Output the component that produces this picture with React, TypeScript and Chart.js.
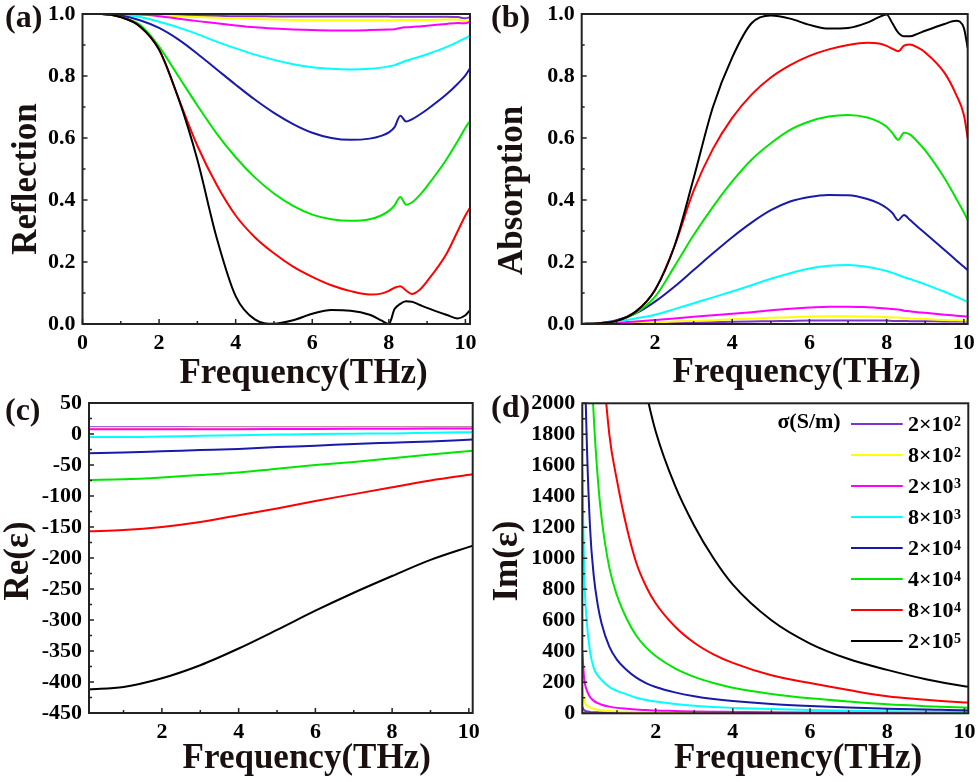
import React, { useEffect, useRef } from 'react';
import Chart from 'chart.js/auto';

const SERIF = '"Liberation Serif", "Times New Roman", serif';
const INK = '#1a1010';

// conductivity series, in legend order (2x10^2 ... 2x10^5)
const sigmaBase = ['2×10', '8×10', '2×10', '8×10', '2×10', '4×10', '8×10', '2×10'];
const sigmaExp = ['2', '2', '3', '3', '4', '4', '4', '5'];
const sigmaColors = ['#8033cc', '#ffff00', '#ff00ff', '#00ffff', '#1a1aaa', '#00e600', '#ff0000', '#000000'];

// (a) Reflection
const freqA = [0, 0.5, 1, 1.5, 2, 2.5, 3, 3.5, 4, 4.5, 5, 5.5, 6, 6.5, 7, 7.5, 7.8, 8, 8.15, 8.3, 8.45, 8.6, 8.8, 9, 9.5, 9.8, 10, 10.12];
const refl2e2 = [1, 1, 0.999, 0.998, 0.997, 0.996, 0.995, 0.994, 0.993, 0.993, 0.992, 0.992, 0.992, 0.992, 0.992, 0.992, 0.992, 0.992, 0.991, 0.991, 0.991, 0.991, 0.991, 0.991, 0.991, 0.99, 0.986, 0.99];
const refl8e2 = [1, 1, 0.999, 0.997, 0.995, 0.993, 0.99, 0.988, 0.986, 0.984, 0.982, 0.981, 0.98, 0.98, 0.98, 0.98, 0.98, 0.98, 0.98, 0.981, 0.981, 0.981, 0.981, 0.981, 0.982, 0.982, 0.977, 0.981];
const refl2e3 = [1, 1, 0.999, 0.998, 0.993, 0.985, 0.977, 0.97, 0.963, 0.957, 0.953, 0.95, 0.948, 0.947, 0.947, 0.948, 0.949, 0.95, 0.951, 0.955, 0.957, 0.958, 0.96, 0.962, 0.968, 0.971, 0.97, 0.975];
const refl8e3 = [1, 1, 0.998, 0.99, 0.975, 0.957, 0.935, 0.911, 0.889, 0.869, 0.852, 0.838, 0.828, 0.823, 0.821, 0.823, 0.827, 0.831, 0.835, 0.842, 0.849, 0.855, 0.862, 0.87, 0.893, 0.91, 0.922, 0.93];
const refl2e4 = [1, 1, 0.995, 0.98, 0.955, 0.918, 0.872, 0.822, 0.772, 0.724, 0.681, 0.645, 0.617, 0.6, 0.594, 0.598, 0.607, 0.618, 0.635, 0.672, 0.653, 0.66, 0.675, 0.692, 0.74, 0.775, 0.802, 0.825];
const refl4e4 = [1, 1, 0.99, 0.965, 0.895, 0.8, 0.705, 0.615, 0.538, 0.473, 0.421, 0.381, 0.353, 0.338, 0.333, 0.338, 0.35, 0.365, 0.383, 0.41, 0.385, 0.392, 0.415, 0.445, 0.53, 0.59, 0.633, 0.655];
const refl8e4 = [1, 1, 0.99, 0.96, 0.885, 0.73, 0.575, 0.45, 0.35, 0.28, 0.228, 0.185, 0.152, 0.125, 0.106, 0.095, 0.098, 0.107, 0.117, 0.122, 0.108, 0.097, 0.11, 0.138, 0.225, 0.3, 0.35, 0.375];
const refl2e5 = [1, 1, 0.99, 0.96, 0.885, 0.73, 0.53, 0.28, 0.09, 0.015, 0.001, 0.012, 0.033, 0.045, 0.043, 0.03, 0.012, 0, 0.048, 0.065, 0.073, 0.072, 0.062, 0.052, 0.03, 0.018, 0.028, 0.045];

// (b) Absorption
const freqB = [0.1, 0.5, 1, 1.5, 2, 2.5, 3, 3.5, 4, 4.5, 5, 5.5, 6, 6.5, 7, 7.5, 7.8, 8, 8.15, 8.3, 8.45, 8.6, 8.8, 9, 9.5, 9.8, 10, 10.1];
const abs2e2 = [0, 0, 0.001, 0.002, 0.003, 0.004, 0.005, 0.006, 0.007, 0.008, 0.009, 0.01, 0.011, 0.011, 0.011, 0.011, 0.011, 0.011, 0.01, 0.01, 0.01, 0.009, 0.009, 0.009, 0.008, 0.008, 0.008, 0.008];
const abs8e2 = [0, 0, 0.001, 0.003, 0.005, 0.008, 0.01, 0.012, 0.015, 0.017, 0.02, 0.022, 0.024, 0.025, 0.025, 0.024, 0.023, 0.022, 0.021, 0.021, 0.019, 0.018, 0.017, 0.016, 0.013, 0.012, 0.011, 0.01];
const abs2e3 = [0, 0.001, 0.004, 0.008, 0.013, 0.018, 0.023, 0.028, 0.033, 0.038, 0.044, 0.049, 0.053, 0.056, 0.056, 0.054, 0.052, 0.05, 0.048, 0.047, 0.043, 0.041, 0.038, 0.036, 0.03, 0.027, 0.025, 0.024];
const abs8e3 = [0, 0.002, 0.008, 0.018, 0.03, 0.048, 0.067, 0.086, 0.105, 0.125, 0.146, 0.164, 0.179, 0.188, 0.19, 0.184, 0.177, 0.171, 0.165, 0.158, 0.151, 0.145, 0.137, 0.128, 0.104, 0.088, 0.077, 0.072];
const abs2e4 = [0, 0.002, 0.012, 0.034, 0.072, 0.12, 0.174, 0.228, 0.28, 0.327, 0.367, 0.395, 0.41, 0.416, 0.415, 0.403, 0.389, 0.374, 0.358, 0.335, 0.352, 0.336, 0.314, 0.293, 0.239, 0.206, 0.185, 0.174];
const abs4e4 = [0, 0.002, 0.01, 0.035, 0.088, 0.185, 0.287, 0.378, 0.46, 0.53, 0.583, 0.626, 0.653, 0.669, 0.674, 0.666, 0.652, 0.636, 0.616, 0.594, 0.617, 0.612, 0.588, 0.56, 0.47, 0.405, 0.36, 0.335];
const abs8e4 = [0, 0.002, 0.01, 0.04, 0.11, 0.25, 0.43, 0.565, 0.665, 0.74, 0.795, 0.835, 0.865, 0.886, 0.9, 0.907, 0.905, 0.897, 0.888, 0.88, 0.898, 0.902, 0.892, 0.876, 0.81, 0.74, 0.675, 0.6];
const abs2e5 = [0, 0.002, 0.01, 0.04, 0.11, 0.25, 0.47, 0.7, 0.86, 0.97, 0.995, 0.985, 0.965, 0.953, 0.955, 0.972, 0.99, 0.998, 0.97, 0.94, 0.928, 0.928, 0.936, 0.946, 0.968, 0.978, 0.955, 0.89];

// (c) Re(eps)
const freqC = [0.1, 1, 2, 3, 4, 5, 6, 7, 8, 9, 10.1];
const re2e2 = [11, 11, 11, 11, 11, 11, 11, 11, 11, 11, 11];
const re8e2 = [9.8, 9.8, 9.8, 9.9, 9.9, 10, 10, 10, 10.1, 10.1, 10.2];
const re2e3 = [7.5, 7.5, 7.6, 7.7, 7.8, 8, 8.2, 8.4, 8.6, 8.8, 9];
const re8e3 = [-5, -5, -4, -3, -2, -1, 0, 0.5, 1, 2, 3];
const re2e4 = [-31, -30, -28, -26, -24, -21, -19, -16, -14, -12, -9];
const re4e4 = [-74, -73, -70, -66, -62, -56, -50, -45, -39, -33, -27];
const re8e4 = [-157, -155, -150, -142, -131, -120, -108, -97, -86, -75, -65];
const re2e5 = [-412, -408, -394, -373, -346, -316, -285, -256, -229, -203, -180];

// (d) Im(eps)
const freqD = [0.1, 0.15, 0.2, 0.3, 0.4, 0.5, 0.6, 0.8, 1, 1.25, 1.5, 1.75, 2, 2.5, 3, 3.5, 4, 5, 6, 7, 8, 9, 10, 10.1];
const im2e2 = [40, 20, 14, 9, 7, 6, 5, 4, 3, 2.5, 2, 1.8, 1.5, 1.2, 1, 0.9, 0.8, 0.6, 0.5, 0.4, 0.35, 0.3, 0.25, 0.25];
const im8e2 = [160, 80, 55, 38, 28, 23, 19, 15, 12, 10, 8, 7, 6, 5, 4, 3.5, 3, 2.5, 2, 1.6, 1.3, 1.1, 1, 1];
const im2e3 = [400, 220, 160, 105, 80, 65, 55, 43, 35, 29, 24, 21, 18, 15, 12, 10, 9, 7, 5.5, 4.5, 3.5, 3, 2.5, 2.5];
const im8e3 = [1560, 900, 640, 400, 290, 245, 215, 170, 145, 122, 100, 86, 76, 60, 48, 41, 35, 27, 21, 17, 13, 11, 9, 9];
const im2e4 = [3700, 2500, 1900, 1200, 880, 700, 580, 430, 345, 280, 230, 195, 170, 135, 110, 92, 79, 60, 47, 37, 30, 24, 19, 18];
const im4e4 = [7300, 4900, 3700, 2500, 1900, 1520, 1260, 940, 760, 610, 500, 425, 370, 290, 235, 195, 165, 125, 97, 76, 58, 46, 37, 36];
const im8e4 = [14400, 9600, 7200, 4800, 3600, 2880, 2400, 1800, 1500, 1200, 970, 820, 710, 560, 455, 380, 325, 245, 195, 150, 110, 88, 70, 69];
const im2e5 = [36000, 24000, 18000, 12000, 9000, 7200, 6000, 4500, 3600, 2900, 2420, 2080, 1820, 1470, 1210, 1000, 830, 600, 450, 350, 280, 220, 175, 172];

// tick positions
const xTicksA = [0, 2, 4, 6, 8, 10];
const xTicks = [2, 4, 6, 8, 10];
const xMinorA = [1, 3, 5, 7, 9];
const xMinor = [1, 3, 5, 7, 9];
const yTicksAB = [0, 0.2, 0.4, 0.6, 0.8, 1.0];
const yMinorAB = [0.1, 0.3, 0.5, 0.7, 0.9];
const yTicksC = [50, 0, -50, -100, -150, -200, -250, -300, -350, -400, -450];
const yMinorC = [25, -25, -75, -125, -175, -225, -275, -325, -375, -425];
const yTicksD = [0, 200, 400, 600, 800, 1000, 1200, 1400, 1600, 1800, 2000];
const yMinorD = [100, 300, 500, 700, 900, 1100, 1300, 1500, 1700, 1900];

interface PanelSpec {
  left: number; top: number; width: number; height: number;
  area: { l: number; t: number; r: number; b: number };
  freq: number[];
  series: number[][];
  xMin: number; xMax: number; xTicks: number[]; xMinor: number[];
  yMin: number; yMax: number; yTicks: number[]; yMinor: number[];
  yFmt: (v: number) => string;
  label: string; labelPos: [number, number];
  yTitle: string; yTitlePos: [number, number];
  xTitlePos: [number, number];
  legend?: boolean;
}

const panels: PanelSpec[] = [
  {
    left: 0, top: 0, width: 490, height: 396,
    area: { l: 82.5, t: 14, r: 470, b: 324 },
    freq: freqA,
    series: [refl2e2, refl8e2, refl2e3, refl8e3, refl2e4, refl4e4, refl8e4, refl2e5],
    xMin: 0, xMax: 10.12, xTicks: xTicksA, xMinor: xMinorA,
    yMin: 0, yMax: 1, yTicks: yTicksAB, yMinor: yMinorAB,
    yFmt: (v) => v.toFixed(1),
    label: '(a)', labelPos: [5, 27],
    yTitle: 'Reflection', yTitlePos: [36, 179],
    xTitlePos: [303.5, 383],
  },
  {
    left: 490, top: 0, width: 489, height: 396,
    area: { l: 91.7, t: 14, r: 477.7, b: 324 },
    freq: freqB,
    series: [abs2e2, abs8e2, abs2e3, abs8e3, abs2e4, abs4e4, abs8e4, abs2e5],
    xMin: 0.1, xMax: 10.1, xTicks, xMinor,
    yMin: 0, yMax: 1, yTicks: yTicksAB, yMinor: yMinorAB,
    yFmt: (v) => v.toFixed(1),
    label: '(b)', labelPos: [1, 27],
    yTitle: 'Absorption', yTitlePos: [32, 190.5],
    xTitlePos: [306.7, 382],
  },
  {
    left: 0, top: 388, width: 490, height: 394,
    area: { l: 89, t: 15, r: 472.7, b: 325 },
    freq: freqC,
    series: [re2e2, re8e2, re2e3, re8e3, re2e4, re4e4, re8e4, re2e5],
    xMin: 0.1, xMax: 10.1, xTicks, xMinor,
    yMin: -450, yMax: 50, yTicks: yTicksC, yMinor: yMinorC,
    yFmt: (v) => String(v),
    label: '(c)', labelPos: [5, 32],
    yTitle: 'Re(ε)', yTitlePos: [28, 173],
    xTitlePos: [306.7, 380],
  },
  {
    left: 490, top: 388, width: 489, height: 394,
    area: { l: 92.3, t: 15.3, r: 478.3, b: 325.3 },
    freq: freqD,
    series: [im2e2, im8e2, im2e3, im8e3, im2e4, im4e4, im8e4, im2e5],
    xMin: 0.1, xMax: 10.1, xTicks, xMinor,
    yMin: 0, yMax: 2000, yTicks: yTicksD, yMinor: yMinorD,
    yFmt: (v) => String(v),
    label: '(d)', labelPos: [1, 29],
    yTitle: 'Im(ε)', yTitlePos: [27, 173],
    xTitlePos: [308, 380],
    legend: true,
  },
];

// frame, inward ticks, titles and the sigma legend
const decorPlugin = {
  id: 'decor',
  afterDraw(chart: any, _args: any, opts: any) {
    const spec: PanelSpec = opts.spec;
    const { ctx, chartArea } = chart;
    const { left, top, right, bottom } = chartArea;
    const xs = chart.scales.x;
    const ys = chart.scales.y;
    ctx.save();
    ctx.strokeStyle = '#222';
    ctx.lineWidth = 1.5;
    ctx.beginPath();
    spec.xTicks.forEach((v) => { const p = xs.getPixelForValue(v); ctx.moveTo(p, bottom); ctx.lineTo(p, bottom - 5); });
    spec.xMinor.forEach((v) => { const p = xs.getPixelForValue(v); ctx.moveTo(p, bottom); ctx.lineTo(p, bottom - 3); });
    spec.yTicks.forEach((v) => { const p = ys.getPixelForValue(v); ctx.moveTo(left, p); ctx.lineTo(left + 5, p); });
    spec.yMinor.forEach((v) => { const p = ys.getPixelForValue(v); ctx.moveTo(left, p); ctx.lineTo(left + 3, p); });
    ctx.stroke();
    ctx.lineWidth = 2;
    ctx.strokeRect(left, top, right - left, bottom - top);

    ctx.fillStyle = INK;
    ctx.textBaseline = 'alphabetic';
    ctx.font = `bold 32px ${SERIF}`;
    ctx.textAlign = 'left';
    ctx.fillText(spec.label, spec.labelPos[0], spec.labelPos[1]);

    ctx.font = `bold 35px ${SERIF}`;
    ctx.textAlign = 'center';
    ctx.fillText('Frequency(THz)', spec.xTitlePos[0], spec.xTitlePos[1]);
    ctx.save();
    ctx.translate(spec.yTitlePos[0], spec.yTitlePos[1]);
    ctx.rotate(-Math.PI / 2);
    ctx.fillText(spec.yTitle, 0, 0);
    ctx.restore();

    if (spec.legend) {
      ctx.font = `bold 22px ${SERIF}`;
      ctx.textAlign = 'right';
      ctx.fillStyle = '#000';
      ctx.fillText('σ(S/m)', 350.7, 40);
      sigmaBase.forEach((base, i) => {
        const y = 36 + i * 31;
        ctx.strokeStyle = sigmaColors[i];
        ctx.lineWidth = 2;
        ctx.beginPath();
        ctx.moveTo(361, y);
        ctx.lineTo(412.7, y);
        ctx.stroke();
        ctx.textAlign = 'left';
        ctx.font = `bold 22px ${SERIF}`;
        ctx.fillText(base, 418, y + 7);
        const w = ctx.measureText(base).width;
        ctx.font = `bold 14px ${SERIF}`;
        ctx.fillText(sigmaExp[i], 418 + w + 0.5, y + 1.5);
      });
    }
    ctx.restore();
  },
};

const Panel: React.FC<{ spec: PanelSpec }> = ({ spec }) => {
  const canvasRef = useRef<HTMLCanvasElement>(null);

  useEffect(() => {
    if (!canvasRef.current) return;
    const tickFont = { family: SERIF, size: 22, weight: 'bold' as const };
    const chart = new Chart(canvasRef.current, {
      type: 'line',
      data: {
        datasets: spec.series.map((vals, i) => ({
          data: spec.freq.map((x, j) => ({ x, y: vals[j] })),
          borderColor: sigmaColors[i],
          backgroundColor: sigmaColors[i],
          borderWidth: 2,
          pointRadius: 0,
          cubicInterpolationMode: 'monotone' as const,
          order: spec.series.length - i,
        })),
      },
      options: {
        animation: false,
        responsive: false,
        events: [],
        layout: {
          padding: { left: 0, top: spec.area.t, right: spec.width - spec.area.r, bottom: 0 },
        },
        plugins: {
          legend: { display: false },
          tooltip: { enabled: false },
          decor: { spec },
        } as any,
        scales: {
          x: {
            type: 'linear',
            min: spec.xMin,
            max: spec.xMax,
            grid: { display: false, drawTicks: false },
            border: { display: false },
            ticks: { font: tickFont, color: '#000', padding: 6, maxRotation: 0, callback: (v: any) => String(v) },
            afterBuildTicks: (s: any) => { s.ticks = spec.xTicks.map((value) => ({ value })); },
            afterFit: (s: any) => { s.height = spec.height - spec.area.b; s.paddingLeft = 0; s.paddingRight = 0; },
          },
          y: {
            type: 'linear',
            min: spec.yMin,
            max: spec.yMax,
            grid: { display: false, drawTicks: false },
            border: { display: false },
            ticks: { font: tickFont, color: '#000', padding: 7, callback: (v: any) => spec.yFmt(Number(v)) },
            afterBuildTicks: (s: any) => { s.ticks = spec.yTicks.map((value) => ({ value })); },
            afterFit: (s: any) => { s.width = spec.area.l; s.paddingTop = 0; s.paddingBottom = 0; },
          },
        },
      },
      plugins: [decorPlugin],
    });
    return () => chart.destroy();
  }, [spec]);

  return (
    <canvas
      ref={canvasRef}
      width={spec.width}
      height={spec.height}
      style={{ position: 'absolute', left: spec.left, top: spec.top, width: spec.width, height: spec.height }}
    />
  );
};

export default function App() {
  return (
    <div style={{ position: 'absolute', left: 0, top: 0, width: 979, height: 782, background: '#fff' }}>
      {panels.map((p) => (
        <Panel key={p.label} spec={p} />
      ))}
    </div>
  );
}
